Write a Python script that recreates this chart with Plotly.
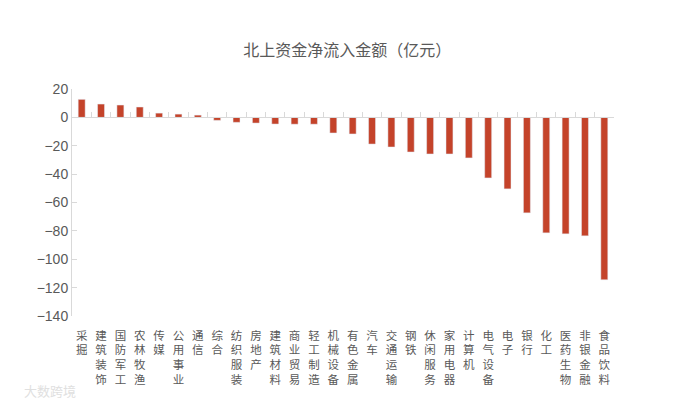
import plotly.graph_objects as go

categories = ["采掘", "建筑装饰", "国防军工", "农林牧渔", "传媒", "公用事业", "通信", "综合",
              "纺织服装", "房地产", "建筑材料", "商业贸易", "轻工制造", "机械设备", "有色金属",
              "汽车", "交通运输", "钢铁", "休闲服务", "家用电器", "计算机", "电气设备", "电子",
              "银行", "化工", "医药生物", "非银金融", "食品饮料"]
values = [12.7, 9.4, 8.7, 7.3, 3.0, 2.3, 1.6, -2.1,
          -3.5, -4.0, -4.7, -4.8, -4.8, -11.0, -11.7,
          -18.8, -20.9, -24.4, -25.8, -25.8, -28.6, -42.7, -50.4,
          -67.3, -81.4, -82.1, -83.5, -114.5]
y_ticks = [20, 0, -20, -40, -60, -80, -100, -120, -140]
title_text = "北上资金净流入金额（亿元）"

labels = ["<br>".join(list(c)) for c in categories]
bar_color = "#C4432A"
grey = "#595959"
axis_grey = "#D9D9D9"
ymin, ymax = -140, 20

fig = go.Figure()
fig.add_trace(go.Bar(x=labels, y=values, marker_color=bar_color, width=0.36,
                     hoverinfo="x+y", showlegend=False))
fig.add_trace(go.Bar(x=labels, y=values, xaxis="x2", opacity=0, width=0.36,
                     hoverinfo="skip", showlegend=False))

zero_pos = (0 - ymin) / (ymax - ymin)

fig.update_layout(
    width=695, height=400,
    margin=dict(l=64, r=89, t=81, b=92, autoexpand=False),
    paper_bgcolor="white", plot_bgcolor="white",
    font=dict(family="Liberation Sans, Noto Sans CJK SC", color=grey),
    title=dict(text=title_text, x=0.488, xanchor="center", y=0.895, yanchor="middle",
               font=dict(size=16, color=grey, family="Noto Sans CJK SC")),
    bargap=0.64,
    xaxis=dict(type="category", categoryorder="array", categoryarray=labels,
               showline=False, ticks="", showgrid=False, zeroline=False,
               automargin=False, ticklabelstandoff=11,
               tickfont=dict(size=11.5, color=grey, family="Noto Sans CJK SC"),
               tickangle=0, range=[-0.5, 27.5]),
    xaxis2=dict(type="category", categoryorder="array", categoryarray=labels,
                overlaying="x", anchor="free", position=zero_pos, side="bottom",
                showline=True, linecolor=axis_grey, linewidth=1, automargin=False,
                ticks="inside", ticklen=5, tickcolor=axis_grey, tickson="boundaries",
                showticklabels=False, showgrid=False, zeroline=False,
                range=[-0.5, 27.5]),
    yaxis=dict(range=[ymin, ymax], tickvals=y_ticks, showgrid=False, automargin=False,
               zeroline=False, showline=True, linecolor=axis_grey, linewidth=1,
               ticks="inside", ticklen=5, tickcolor=axis_grey,
               tickfont=dict(size=14, color=grey, family="Liberation Sans")),
    annotations=[dict(text="大数跨境", x=-0.04, y=-0.326, xref="paper", yref="paper",
                      showarrow=False, font=dict(size=13, color="#E0E0E0",
                                                 family="Noto Sans CJK SC"),
                      xanchor="center", yanchor="middle")],
)

fig.write_html("out.html")
